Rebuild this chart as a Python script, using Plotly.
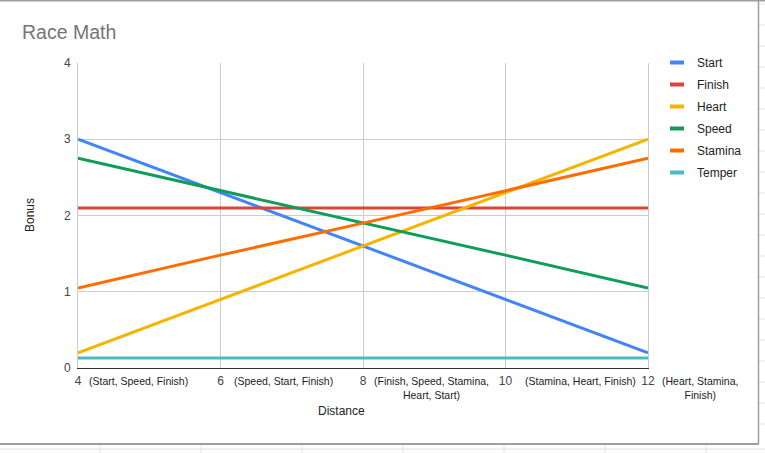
import plotly.graph_objects as go

# ---- data ----
distance = [4, 6, 8, 10, 12]
tick_labels = ["4", "6", "8", "10", "12"]
tick_notes = [
    "(Start, Speed, Finish)",
    "(Speed, Start, Finish)",
    "(Finish, Speed, Stamina,<br>Heart, Start)",
    "(Stamina, Heart, Finish)",
    "(Heart, Stamina,<br>Finish)",
]
start = [3.0, 2.3, 1.6, 0.9, 0.2]
finish = [2.1, 2.1, 2.1, 2.1, 2.1]
heart = [0.2, 0.9, 1.6, 2.3, 3.0]
speed = [2.75, 2.33, 1.9, 1.48, 1.05]
stamina = [1.05, 1.48, 1.9, 2.33, 2.75]
temper = [0.13, 0.13, 0.13, 0.13, 0.13]

series_names = ["Start", "Finish", "Heart", "Speed", "Stamina", "Temper"]
series_values = [start, finish, heart, speed, stamina, temper]
colors = ["#4285F4", "#DB4437", "#F4B400", "#0F9D58", "#FF6D01", "#46BDC6"]

# ---- layout geometry (pixels) ----
W, H = 765, 453
L, R, T, B = 78, 117, 63, 85
PW, PH = W - L - R, H - T - B

def px_x(px):
    return (px - L) / PW

def px_y(py):
    return (H - B - py) / PH

FONT = "Liberation Sans, Arial, sans-serif"

fig = go.Figure()
for name, vals, col in zip(series_names, series_values, colors):
    fig.add_trace(go.Scatter(
        x=distance, y=vals, mode="lines", name=name,
        line=dict(color=col, width=3), showlegend=False, hoverinfo="x+y+name",
    ))
    # legend-only entry with a short line symbol
    fig.add_trace(go.Scatter(
        x=[None], y=[None], mode="markers", name=name, legendgroup=name,
        marker=dict(symbol="line-ew-open", size=10, color=col,
                    line=dict(color=col, width=4)),
    ))

note_shift = [9, 11, 9, 17, 12]
annotations = []
for xv, note, sh in zip(distance, tick_notes, note_shift):
    annotations.append(dict(
        x=xv, xref="x", y=px_y(373), yref="paper", text=note, showarrow=False,
        xanchor="left", yanchor="top", align="center", xshift=sh,
        font=dict(family=FONT, size=10.5, color="#222222"),
    ))
annotations.append(dict(
    x=px_x(341), xref="paper", y=px_y(411), yref="paper", text="Distance",
    showarrow=False, xanchor="center", yanchor="middle",
    font=dict(family=FONT, size=12, color="#222222"),
))
annotations.append(dict(
    x=px_x(30), xref="paper", y=px_y(215), yref="paper", text="Bonus",
    showarrow=False, xanchor="center", yanchor="middle", textangle=-90,
    font=dict(family=FONT, size=12, color="#222222"),
))

# spreadsheet frame / grid behind chart
shapes = []
def hline(py, x0, x1, color, width):
    shapes.append(dict(type="line", xref="paper", yref="paper",
                       x0=px_x(x0), x1=px_x(x1), y0=px_y(py), y1=px_y(py),
                       line=dict(color=color, width=width), layer="below"))
def vline(px, y0, y1, color, width):
    shapes.append(dict(type="line", xref="paper", yref="paper",
                       x0=px_x(px), x1=px_x(px), y0=px_y(y0), y1=px_y(y1),
                       line=dict(color=color, width=width), layer="below"))

hline(0.75, 0, 765, "#9e9e9e", 1.5)
hline(449, 0, 765, "#e2e2e2", 1)
for cx in [100, 201, 302, 403, 504, 605, 706]:
    vline(cx, 445, 453, "#e2e2e2", 1)
for ry in [4, 25, 46, 67, 88, 109, 130, 151, 172, 193, 214, 235, 256, 277, 298, 319, 340, 361, 382, 403, 424]:
    hline(ry, 759, 765, "#e2e2e2", 1)
hline(444, 0, 759, "#9e9e9e", 2)
vline(758.5, 0, 444, "#9e9e9e", 1.5)

fig.update_layout(
    width=W, height=H,
    margin=dict(l=L, r=R, t=T, b=B, pad=0),
    paper_bgcolor="white", plot_bgcolor="white",
    font=dict(family=FONT, size=12, color="#444444"),
    title=dict(text="Race Math", x=22 / W, xref="container", xanchor="left",
               y=1 - 32 / H, yref="container", yanchor="middle",
               font=dict(family=FONT, size=19.5, color="#757575")),
    xaxis=dict(range=[4, 12], tickvals=distance, ticktext=tick_labels,
               showgrid=True, gridcolor="#cccccc", gridwidth=1,
               showline=True, linecolor="#333333", linewidth=1,
               zeroline=False, ticks="", ticklabelstandoff=2,
               tickfont=dict(family=FONT, size=12, color="#444444"),
               fixedrange=True),
    yaxis=dict(range=[0, 4], tickvals=[0, 1, 2, 3, 4],
               showgrid=True, gridcolor="#cccccc", gridwidth=1,
               showline=True, linecolor="#cccccc", linewidth=1, mirror=True,
               zeroline=False, ticks="", ticklabelstandoff=4,
               tickfont=dict(family=FONT, size=12, color="#444444"),
               fixedrange=True),
    legend=dict(x=px_x(657), y=px_y(48), xanchor="left", yanchor="top",
                font=dict(family=FONT, size=12, color="#222222"),
                itemwidth=30, tracegroupgap=3, bgcolor="rgba(0,0,0,0)"),
    annotations=annotations,
    shapes=shapes,
)

fig.write_html("out.html",
               config={"displayModeBar": False},
               post_script="document.body.style.margin='0';document.body.style.padding='0';")
